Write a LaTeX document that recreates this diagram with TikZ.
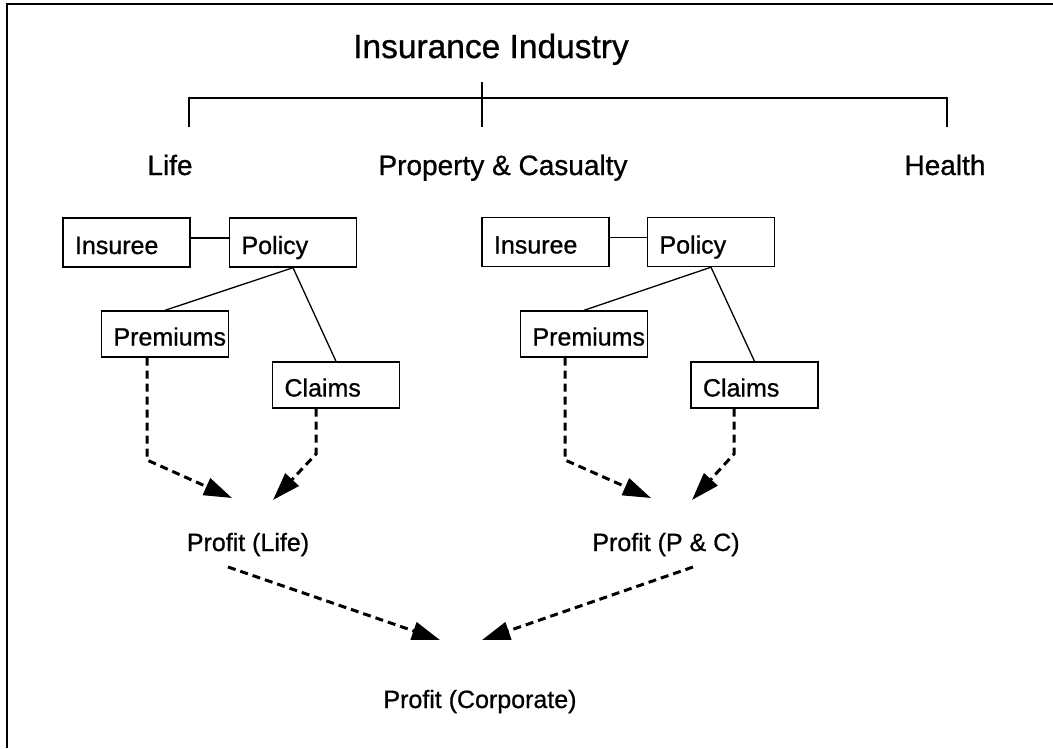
\documentclass[tikz,border=0pt]{standalone}
\usepackage{fontspec}
\setmainfont{Liberation Sans}[FakeBold=0.8]
\usetikzlibrary{arrows.meta,calc}
\begin{document}
\hyphenpenalty=10000
\hbadness=10000
\hfuzz=60pt
\begin{tikzpicture}[x=1pt,y=-1pt,
  thin line/.style={line width=1.3pt},
  box/.style={draw, line width=1.4pt, text width=103pt, align=left,
    inner xsep=12pt, inner ysep=0pt, text height=23pt, text depth=0pt,
    minimum height=49pt, font=\fontsize{25}{28}\selectfont},
  lowbox/.style={box, minimum height=46pt},
  head/.style={font=\fontsize{33.5}{38}\selectfont, anchor=base, inner sep=0pt},
  branch/.style={font=\fontsize{28}{32}\selectfont, anchor=base, inner sep=0pt},
  result/.style={font=\fontsize{25}{28}\selectfont, anchor=base, inner sep=0pt},
  flow/.style={line width=3pt, dash pattern=on 8pt off 5pt,
    -{Triangle[length=28pt,width=18pt]}},
]
\useasboundingbox (0,0) rectangle (1053,748);

% frame (top and left edges)
\draw[line width=2pt] (7,748) -- (7,4) -- (1053,4);

% industry tree
\node[head] (ind) at (491,58) {Insurance Industry};
\coordinate (hubtop) at (482,82);
\coordinate (hub) at (482,98);
\coordinate (lifejoint) at (189,98);
\coordinate (healthjoint) at (947,98);
\coordinate (lifefoot) at (189,127);
\coordinate (pcfoot) at (482,127);
\coordinate (healthfoot) at (947,127);
\draw[thin line] (hubtop) -- (pcfoot);
\draw[thin line] (lifefoot) -- (lifejoint) -- (healthjoint) -- (healthfoot);

\node[branch] (life) at (170,175) {Life};
\node[branch] (pc) at (503,175) {Property \& Casualty};
\node[branch] (health) at (945,175) {Health};

% Life line of business
\node[box] (insL) at (126.5,242.5) {Insuree};
\node[box] (polL) at (293,242.5) {Policy};
\node[lowbox] (preL) at (165,334) {Premiums};
\node[lowbox] (claL) at (336,385) {Claims};
\draw[thin line] ([yshift=4.5pt]insL.east) -- ([yshift=4.5pt]polL.west);
\draw[thin line] (polL.south) -- (preL.north);
\draw[thin line] (polL.south) -- (claL.north);

\node[result] (profL) at (248,551) {Profit (Life)};
\coordinate (preLbend) at (147,460);
\coordinate (claLbend) at (316,454);
\coordinate (profLin1) at (232,498);
\coordinate (profLin2) at (273,500);
\draw[flow] (preL.south -| preLbend) -- (preLbend) -- (profLin1);
\draw[flow] (claL.south -| claLbend) -- (claLbend) -- (profLin2);

% Property & Casualty line of business
\node[box] (insP) at (545.5,242) {Insuree};
\node[box] (polP) at (711,242) {Policy};
\node[lowbox] (preP) at (584,334) {Premiums};
\node[lowbox] (claP) at (754.5,385) {Claims};
\draw[thin line] ([yshift=4.5pt]insP.east) -- ([yshift=4.5pt]polP.west);
\draw[thin line] (polP.south) -- (preP.north);
\draw[thin line] (polP.south) -- (claP.north);

\node[result] (profP) at (666,551) {Profit (P \& C)};
\coordinate (prePbend) at (565,460);
\coordinate (claPbend) at (734,454);
\coordinate (profPin1) at (651,498);
\coordinate (profPin2) at (692,500);
\draw[flow] (preP.south -| prePbend) -- (prePbend) -- (profPin1);
\draw[flow] (claP.south -| claPbend) -- (claPbend) -- (profPin2);

% corporate roll-up
\node[result] (profC) at (480,708) {Profit (Corporate)};
\coordinate (profLout) at (228,567);
\coordinate (profPout) at (693,567);
\coordinate (profCin1) at (440,640);
\coordinate (profCin2) at (482,640);
\draw[flow] (profLout) -- (profCin1);
\draw[flow] (profPout) -- (profCin2);
\end{tikzpicture}
\end{document}
